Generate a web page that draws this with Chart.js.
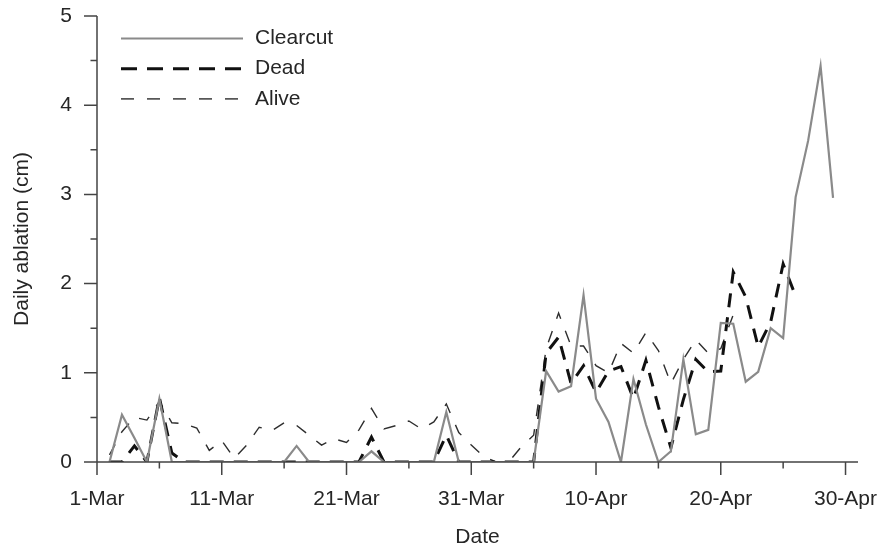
<!DOCTYPE html>
<html>
<head>
<meta charset="utf-8">
<script src="https://cdn.jsdelivr.net/npm/chart.js@4.4.1/dist/chart.umd.min.js"></script>
<style>
  html, body { margin: 0; padding: 0; background: #fff; }
</style>
</head>
<body>
<canvas id="ablationChart" width="882" height="548"></canvas>
<script>
// one category per day, 1 March to 1 May
const dates = [
  '1-Mar', '2-Mar', '3-Mar', '4-Mar', '5-Mar', '6-Mar', '7-Mar', '8-Mar', '9-Mar', '10-Mar',
  '11-Mar', '12-Mar', '13-Mar', '14-Mar', '15-Mar', '16-Mar', '17-Mar', '18-Mar', '19-Mar', '20-Mar',
  '21-Mar', '22-Mar', '23-Mar', '24-Mar', '25-Mar', '26-Mar', '27-Mar', '28-Mar', '29-Mar', '30-Mar',
  '31-Mar', '1-Apr', '2-Apr', '3-Apr', '4-Apr', '5-Apr', '6-Apr', '7-Apr', '8-Apr', '9-Apr',
  '10-Apr', '11-Apr', '12-Apr', '13-Apr', '14-Apr', '15-Apr', '16-Apr', '17-Apr', '18-Apr', '19-Apr',
  '20-Apr', '21-Apr', '22-Apr', '23-Apr', '24-Apr', '25-Apr', '26-Apr', '27-Apr', '28-Apr', '29-Apr',
  '30-Apr', '1-May'
];

// daily ablation (cm)
const clearcut = [
  null,
  0, 0.53, 0.27, 0, 0.71,
  0, 0, 0, 0, 0, 0, 0, 0, 0, 0,
  0.18,
  0, 0, 0, 0, 0,
  0.12,
  0, 0, 0, 0, 0,
  0.56,
  0, 0, 0, 0, 0, 0, 0,
  1.02, 0.79, 0.85, 1.87, 0.71, 0.45, 0, 0.93, 0.42, 0,
  0.12, 1.15, 0.31, 0.36, 1.56, 1.55, 0.90, 1.01, 1.50, 1.39,
  2.97, 3.60, 4.44, 2.96,
  null, null
];

const dead = [
  null,
  0, 0, 0.18, 0, 0.72,
  0.10, 0, 0, 0, 0,
  0, 0, 0, 0, 0, 0, 0, 0, 0, 0, 0,
  0.28,
  0, 0, 0, 0, 0,
  0.30,
  0, 0, 0, 0, 0, 0, 0,
  1.22, 1.40, 0.88, 1.08, 0.78, 1.02, 1.07, 0.71, 1.14, 0.62,
  0.16, 0.70, 1.15, 1.01, 1.02, 2.13, 1.85, 1.29, 1.57, 2.22, 1.86,
  null, null, null, null, null
];

const alive = [
  null,
  0.08, 0.34, 0.50, 0.47, 0.68, 0.44, 0.43, 0.38, 0.13, 0.24,
  0.04, 0.19, 0.39, 0.35, 0.44, 0.41, 0.30, 0.19, 0.26, 0.22,
  0.36, 0.60, 0.37, 0.41, 0.46, 0.37, 0.45, 0.65, 0.33, 0.19,
  0.06, 0, 0, 0.17, 0.30, 1.27, 1.67, 1.30, 1.30, 1.08,
  1.00, 1.33, 1.22, 1.45, 1.25, 0.88, 1.15, 1.37, 1.22, 1.27, 1.65,
  null, null, null, null, null, null, null, null, null, null
];

const dateTicks = ['1-Mar', '11-Mar', '21-Mar', '31-Mar', '10-Apr', '20-Apr', '30-Apr'];

const axisColor = '#444444';
const textColor = '#262626';
const font = { family: "'Liberation Sans', Arial, sans-serif", size: 21 };

// axis lines plus long (labelled) and short (unlabelled) tick marks
const tickMarks = {
  id: 'tickMarks',
  afterDraw(chart) {
    const { ctx, scales: { x, y } } = chart;
    ctx.save();
    ctx.strokeStyle = axisColor;
    ctx.lineWidth = 1.5;
    ctx.beginPath();
    ctx.moveTo(x.left, y.top);
    ctx.lineTo(x.left, y.bottom);
    ctx.lineTo(x.right, y.bottom);
    dates.forEach((d, i) => {
      if (i % 5) return;
      const px = x.getPixelForValue(i);
      const len = dateTicks.includes(d) ? 13 : 6.5;
      ctx.moveTo(px, y.bottom);
      ctx.lineTo(px, y.bottom + len);
    });
    for (let v = 0; v <= 5; v += 0.5) {
      const py = y.getPixelForValue(v);
      const len = Number.isInteger(v) ? 13 : 6.5;
      ctx.moveTo(x.left, py);
      ctx.lineTo(x.left - len, py);
    }
    ctx.stroke();
    ctx.restore();
  }
};

// legend as short line samples in the top left corner of the plot
const lineLegend = {
  id: 'lineLegend',
  afterDraw(chart) {
    const { ctx, chartArea } = chart;
    ctx.save();
    ctx.font = `${font.size}px ${font.family}`;
    ctx.textBaseline = 'middle';
    ctx.fillStyle = textColor;
    chart.data.datasets.forEach((ds, i) => {
      const yy = chartArea.top + 22.5 + i * 30.2;
      const x0 = chartArea.left + 24;
      ctx.strokeStyle = ds.borderColor;
      ctx.lineWidth = ds.borderWidth;
      ctx.setLineDash(ds.legendDash || []);
      ctx.beginPath();
      ctx.moveTo(x0, yy);
      ctx.lineTo(x0 + 122, yy);
      ctx.stroke();
      ctx.setLineDash([]);
      ctx.fillText(ds.label, x0 + 134, yy);
    });
    ctx.restore();
  }
};

new Chart(document.getElementById('ablationChart'), {
  type: 'line',
  data: {
    labels: dates,
    datasets: [
      {
        label: 'Clearcut',
        data: clearcut,
        borderColor: '#8a8a8a',
        borderWidth: 2.2
      },
      {
        label: 'Dead',
        data: dead,
        borderColor: '#111111',
        borderWidth: 3,
        borderDash: [14, 10],
        legendDash: [16, 10]
      },
      {
        label: 'Alive',
        data: alive,
        borderColor: '#2e2e2e',
        borderWidth: 1.4,
        borderDash: [12, 13],
        legendDash: [13, 13]
      }
    ]
  },
  options: {
    responsive: false,
    animation: false,
    layout: { padding: { top: 16, right: 24, bottom: 0, left: 0 } },
    elements: {
      point: { radius: 0 },
      line: { tension: 0, fill: false }
    },
    plugins: {
      legend: { display: false },
      tooltip: { enabled: false }
    },
    scales: {
      x: {
        type: 'category',
        offset: false,
        afterFit: s => {
          s.height = 86;
          s.paddingLeft = 0;
          s.paddingRight = 0;
        },
        grid: { display: false, drawTicks: false },
        border: { display: false },
        ticks: {
          autoSkip: false,
          maxRotation: 0,
          padding: 25,
          color: textColor,
          font,
          callback: (v, i) => dateTicks.includes(dates[i]) ? dates[i] : null
        },
        title: {
          display: true,
          text: 'Date',
          color: textColor,
          font,
          padding: { top: 0, bottom: -2 }
        }
      },
      y: {
        min: 0,
        max: 5,
        afterFit: s => {
          s.width = 97;
          s.paddingTop = 0;
          s.paddingBottom = 0;
        },
        grid: { display: false, drawTicks: false },
        border: { display: false },
        ticks: { stepSize: 1, padding: 25, color: textColor, font },
        title: {
          display: true,
          text: 'Daily ablation (cm)',
          color: textColor,
          font,
          padding: { top: 10, bottom: 0 }
        }
      }
    }
  },
  plugins: [tickMarks, lineLegend]
});
</script>
</body>
</html>
